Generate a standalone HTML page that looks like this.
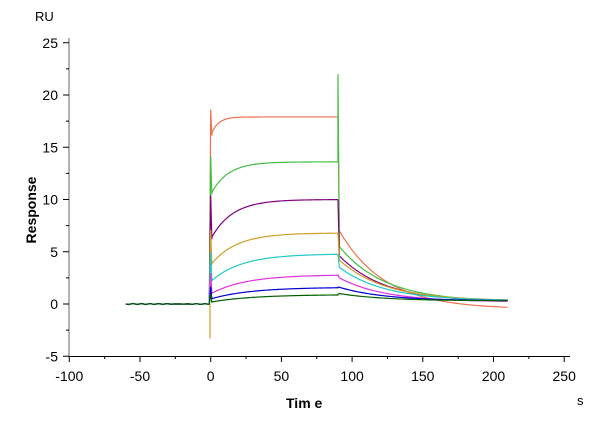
<!DOCTYPE html><html><head><style>body{margin:0;background:#fff}svg{font-family:"Liberation Sans",sans-serif}</style></head><body>
<svg id="s" width="606" height="433" xmlns="http://www.w3.org/2000/svg">
<g stroke="#999" stroke-width="1.5"><line x1="69" y1="38" x2="69" y2="357"/></g>
<g stroke="#000" stroke-width="1"><line x1="69" y1="356.5" x2="570" y2="356.5"/></g>
<g id="ticks" stroke="#000" stroke-width="1"></g>
<g font-size="14" fill="#000" id="lab"></g>
<text x="35" y="21" font-size="13">RU</text>
<text x="577" y="405" font-size="13">s</text>
<text x="286" y="408" font-size="14" font-weight="bold">Tim e</text>
<text transform="translate(36,210) rotate(-90)" font-size="14" font-weight="bold" text-anchor="middle">Response</text>
<g id="c" fill="none" stroke-width="1.2"></g>
</svg>
<script>
var X=t=>210.7+t*1.414,Y=v=>304-v*10.45,NS="http://www.w3.org/2000/svg";
function el(p,n,a,txt){var e=document.createElementNS(NS,n);for(var k in a)e.setAttribute(k,a[k]);if(txt!=null)e.textContent=txt;document.getElementById(p).appendChild(e);}
for(var v=-5;v<=25;v+=5){el('ticks','line',{x1:63,y1:Y(v),x2:69,y2:Y(v)});el('lab','text',{x:58,y:Y(v)+5,'text-anchor':'end'},v);}
for(var v=-2.5;v<25;v+=5)el('ticks','line',{x1:66,y1:Y(v),x2:69,y2:Y(v)});
for(var t=-100;t<=250;t+=50){el('ticks','line',{x1:X(t),y1:356,x2:X(t),y2:362});el('lab','text',{x:X(t),y:381,'text-anchor':'middle'},t);}
for(var t=-75;t<250;t+=50)el('ticks','line',{x1:X(t),y1:356,x2:X(t),y2:359});
var S=[["#f07050",17.9,0.9,-0.5,7,5],["#40c040",13.6,0.77,0.2,5.5,12],["#800080",10,0.62,0.2,4.6,15],["#d0a020",6.8,0.55,0.3,4.2,18],["#20c8c8",4.8,0.45,0.3,3.5,22],["#e030e0",2.8,0.35,0.2,2.5,25],["#0000d0",1.6,0.3,0.3,1.6,28],["#006000",0.9,0.2,0.3,1.0,30]];
S.forEach(function(s){var d="M"+X(-60)+","+Y(0);for(var t=-58;t<=0;t+=3)d+=" L"+X(t)+","+Y(0.05*Math.sin(t));
d+=" L"+X(0)+","+Y(s[1]*1.04)+" L"+X(0.8)+","+Y(s[1]*s[2]);
for(var t=1;t<=90;t+=1)d+=" L"+X(t)+","+Y(s[1]*(s[2]+(1-s[2])*(1-Math.exp(-t/s[5]))));
d+=" L"+X(90)+","+Y(s[1]===13.6?22:s[1])+" L"+X(91)+","+Y(s[4]);
for(var t=92;t<=210;t+=2)d+=" L"+X(t)+","+Y(s[3]+(s[4]-s[3])*Math.exp(-(t-91)/32));
el('c','path',{d:d,stroke:s[0]});});
el('c','path',{d:"M"+X(-0.5)+","+Y(0)+" L"+X(-0.5)+","+Y(-3.3),stroke:"#d0a020"});
</script></body></html>
